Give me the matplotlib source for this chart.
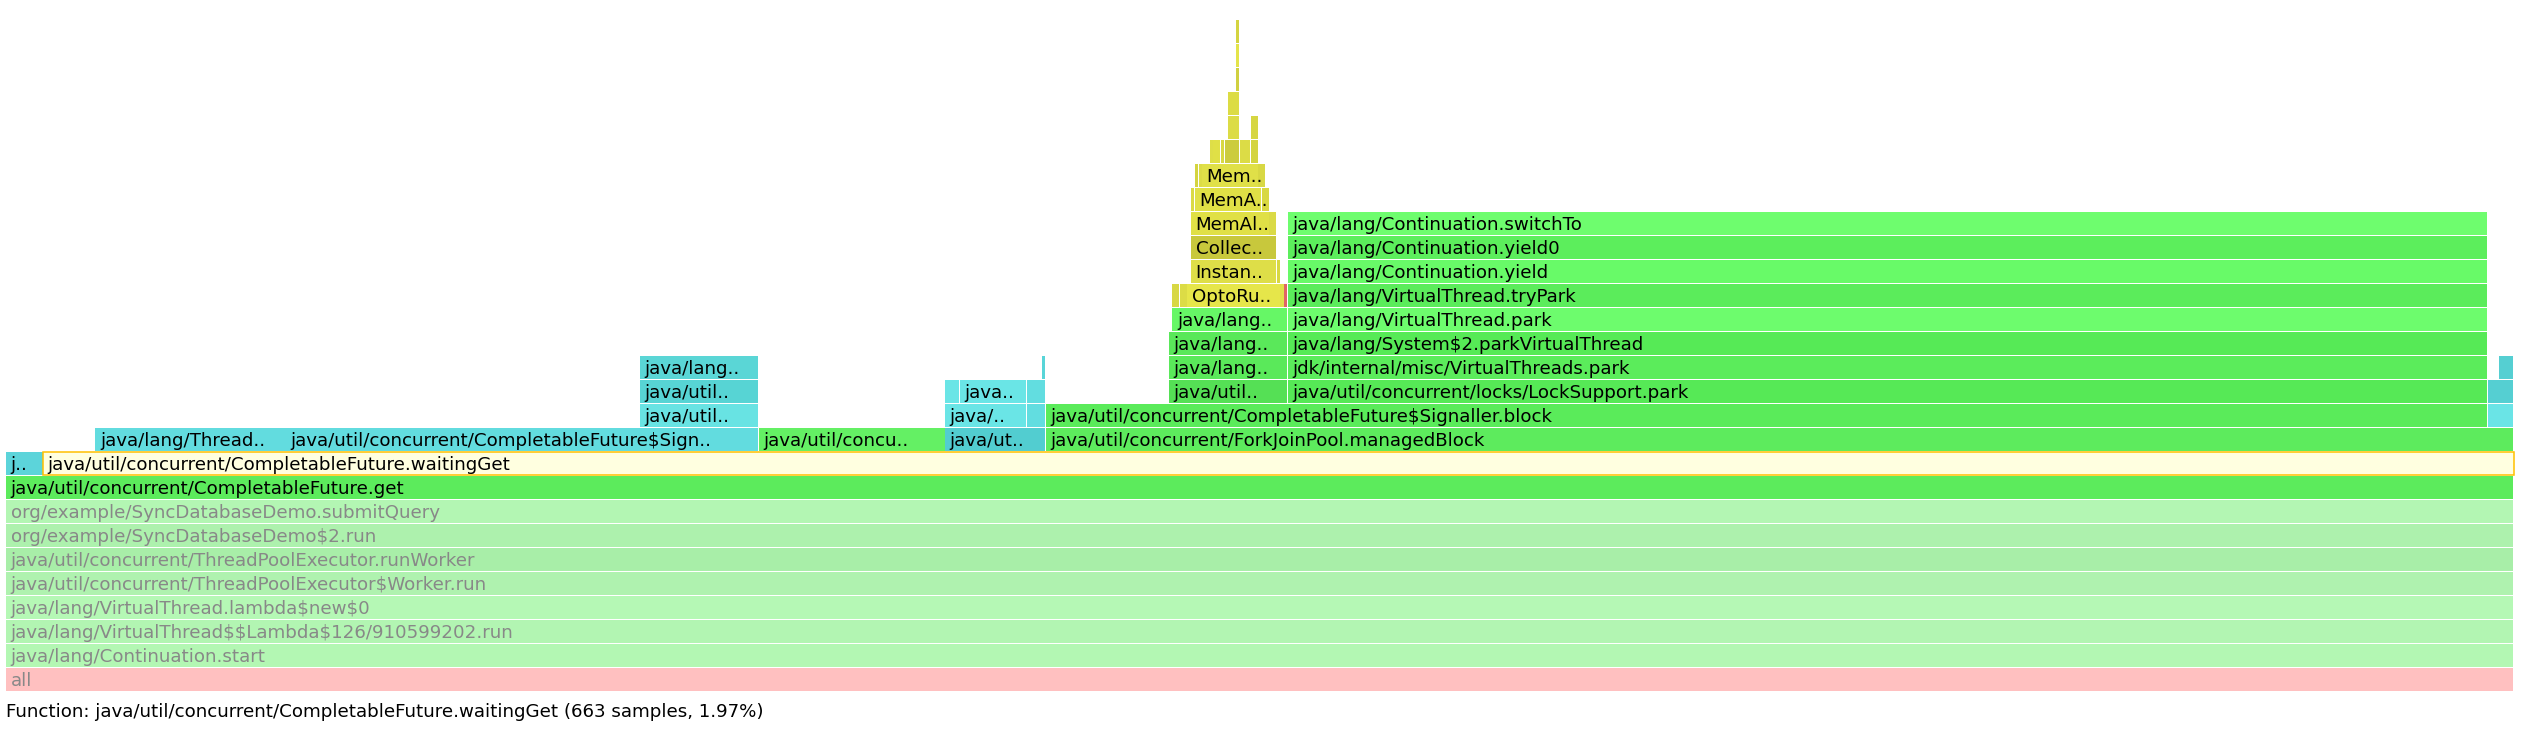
"""
Flame graph (async-profiler style), zoomed into CompletableFuture.get
"""

import matplotlib
matplotlib.use('Agg')
import matplotlib.pyplot as plt

# ---- data: one frame per entry, start/width in samples, level = stack depth ----
total_samples = 673

levels = [
    0, 1, 2, 3, 4, 5, 6, 7, 8,             # ancestors + get
    9, 9,                                  # L9
    10, 10, 10, 10, 10,                    # L10
    11, 11, 11, 11, 11,                    # L11
    12, 12, 12, 12, 12, 12, 12,            # L12
    13, 13, 13, 13, 13,                    # L13
    14, 14,                                # L14
    15, 15,                                # L15
    16, 16, 16, 16, 16, 16,                # L16
    17, 17, 17,                            # L17
    18, 18,                                # L18
    19, 19, 19,                            # L19
    20, 20, 20,                            # L20
    21, 21, 21, 21,                        # L21
    22, 22, 22, 22, 22, 22,                # L22
    23, 23,                                # L23
    24, 25, 26, 27,                        # L24-27
]

starts = [
    0, 0, 0, 0, 0, 0, 0, 0, 0,
    0, 10,
    24, 75, 202, 252, 279,
    170, 252, 274, 279, 666,
    170, 252, 256, 274, 312, 344, 666,
    170, 278, 312, 344, 669,
    312, 344,
    313, 344,
    313, 315, 317, 342, 343, 344,
    318, 341, 344,
    318, 344,
    318, 339, 344,
    318, 319, 337,
    319, 320, 321, 336,
    323, 324, 326, 327, 331, 334,
    328, 334,
    328, 330, 330, 330,
]

widths = [
    673, 673, 673, 673, 673, 673, 673, 673, 673,
    10, 663,
    51, 127, 50, 27, 394,
    32, 22, 5, 387, 7,
    32, 4, 18, 5, 32, 322, 7,
    32, 1, 32, 322, 4,
    32, 322,
    31, 322,
    2, 2, 25, 1, 1, 322,
    23, 1, 322,
    23, 322,
    21, 2, 322,
    1, 18, 2,
    1, 1, 15, 2,
    1, 2, 1, 4, 3, 2,
    3, 2,
    3, 1, 1, 1,
]

labels = [
    'all',
    'java/lang/Continuation.start',
    'java/lang/VirtualThread$$Lambda$126/910599202.run',
    'java/lang/VirtualThread.lambda$new$0',
    'java/util/concurrent/ThreadPoolExecutor$Worker.run',
    'java/util/concurrent/ThreadPoolExecutor.runWorker',
    'org/example/SyncDatabaseDemo$2.run',
    'org/example/SyncDatabaseDemo.submitQuery',
    'java/util/concurrent/CompletableFuture.get',
    'j..', 'java/util/concurrent/CompletableFuture.waitingGet',
    'java/lang/Thread..', 'java/util/concurrent/CompletableFuture$Sign..',
    'java/util/concu..', 'java/ut..', 'java/util/concurrent/ForkJoinPool.managedBlock',
    'java/util..', 'java/..', '', 'java/util/concurrent/CompletableFuture$Signaller.block', '',
    'java/util..', '', 'java..', '', 'java/util..', 'java/util/concurrent/locks/LockSupport.park', '',
    'java/lang..', '', 'java/lang..', 'jdk/internal/misc/VirtualThreads.park', '',
    'java/lang..', 'java/lang/System$2.parkVirtualThread',
    'java/lang..', 'java/lang/VirtualThread.park',
    '', '', 'OptoRu..', '', '', 'java/lang/VirtualThread.tryPark',
    'Instan..', '', 'java/lang/Continuation.yield',
    'Collec..', 'java/lang/Continuation.yield0',
    'MemAl..', '', 'java/lang/Continuation.switchTo',
    '', 'MemA..', '',
    '', '', 'Mem..', '',
    '', '', '', '', '', '',
    '', '',
    '', '', '', '',
]

zoom_level = 8          # frame the view is zoomed into (get)
hover_index = 10        # hovered frame (waitingGet)
status_text = 'Function: java/util/concurrent/CompletableFuture.waitingGet (663 samples, 1.97%)'

# ---- styles ----
colors = [
    '#ffc0c0', '#b3f7b3', '#b2f5b2', '#b5f8b5', '#aff2af', '#a8eea8', '#adf1ad', '#b3f6b3',
    '#5ceb5c',
    '#5cd4da', '#ffffe0',
    '#62dcdf', '#62dcdf', '#64f064', '#52cdd0', '#5deb5d',
    '#68e3e3', '#6ae5e6', '#62dde0', '#5aeb5a', '#6ae4e6',
    '#57d4d4', '#6ae5e6', '#6ae5e6', '#62dde0', '#55e055', '#56e956', '#55cfd2',
    '#5ad6d6', '#58d5d8', '#5ae95a', '#5bec5b', '#55cfd2',
    '#5ae85a', '#56ea56',
    '#66f766', '#6dfc6d',
    '#d8d844', '#dcdc46', '#e6e64a', '#e0e04a', '#e06464', '#5bec5b',
    '#dede48', '#d8d842', '#68fa68',
    '#c8c83c', '#5cee5c',
    '#e0e046', '#dada46', '#6efd6e',
    '#dada44', '#e0e046', '#d8d842',
    '#d4d440', '#dcdc46', '#e0e048', '#d8d844',
    '#dede48', '#e0e046', '#d8d842', '#cccc3e', '#dcdc46', '#d4d440',
    '#dcdc46', '#d6d642',
    '#dcdc44', '#d0d040', '#e4e44a', '#d4d440',
]

W, H = 2526, 736
PX_LEFT, PX_RIGHT = 6, 2514          # left/right edge of the frame area
ROW_PITCH, BAR_H = 24.0, 22.5        # pixels
ROW0_BOTTOM = 690.5                  # pixel y of bottom of level 0
FONT_PX = 18.3
FONT_PT = FONT_PX * 72 / 100


def main():
    fig = plt.figure(figsize=(W / 100, H / 100), dpi=100)
    ax = fig.add_axes([0, 0, 1, 1])
    ax.set_axis_off()

    k = (PX_RIGHT - PX_LEFT) / total_samples
    ax.set_xlim(-PX_LEFT / k, (W - PX_LEFT) / k)
    ax.set_ylim((ROW0_BOTTOM - H) / ROW_PITCH, ROW0_BOTTOM / ROW_PITCH)

    gap = 0.6 / k
    bar_h = BAR_H / ROW_PITCH
    plain = [i for i in range(len(levels)) if i != hover_index]
    ax.bar([starts[i] for i in plain], bar_h,
           width=[max(widths[i] - gap, 0.5) for i in plain],
           bottom=[levels[i] for i in plain], align='edge',
           color=[colors[i] for i in plain], linewidth=0)

    # hovered frame: cream fill with orange outline
    i = hover_index
    ax.bar(starts[i], bar_h, width=widths[i], bottom=levels[i], align='edge',
           color=colors[i], edgecolor='#ffc000', linewidth=1.1, zorder=3)

    for i, lab in enumerate(labels):
        if not lab:
            continue
        tcol = '#888888' if levels[i] < zoom_level else '#000000'
        ax.annotate(lab, (starts[i], levels[i]), xytext=(4.5, 4.5),
                    textcoords='offset pixels', ha='left', va='baseline',
                    fontsize=FONT_PT, color=tcol, family='DejaVu Sans',
                    parse_math=False, zorder=4)

    fig.text(PX_LEFT / W, 1 - 717 / H, status_text, ha='left', va='baseline',
             fontsize=FONT_PT, color='#000000', family='DejaVu Sans',
             parse_math=False)

    fig.savefig('out.png', dpi=100)
    plt.close(fig)


if __name__ == "__main__":
    main()
